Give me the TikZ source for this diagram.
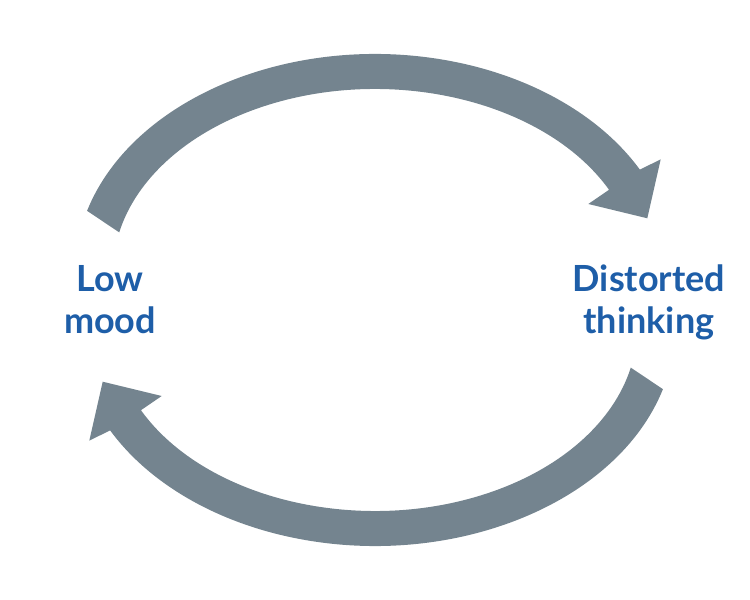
\documentclass[tikz,border=0pt]{standalone}
\usepackage{fontspec}
\setmainfont{Lato}
\usetikzlibrary{calc}
\definecolor{arrowgray}{RGB}{116,132,143}
\definecolor{labelblue}{RGB}{30,94,168}
\begin{document}
\begin{tikzpicture}[x=1pt,y=1pt,
  cyclearrow/.style={fill=arrowgray,draw=none},
  cyclelabel/.style={text=labelblue,font=\bfseries\fontsize{36}{41.6}\selectfont,align=center,inner sep=0pt,anchor=base}]
\path[use as bounding box] (0,0) rectangle (750,600);
\coordinate (c1) at (375,328);
\coordinate (c2) at (375,272);
% top arrow (to the right)
\coordinate (h1a) at (660.7,440.7);
\coordinate (h1t) at (647.3,381.7);
\coordinate (h1b) at (588.3,396);
\fill[cyclearrow] ($(c1)+(163.7:300pt and 218pt)$)
  arc[start angle=163.7,end angle=28,x radius=300pt,y radius=218pt]
  -- (h1a) -- (h1t) -- (h1b)
  -- ($(c1)+(26.7:262pt and 183pt)$)
  arc[start angle=26.7,end angle=167.5,x radius=262pt,y radius=183pt]
  -- cycle;
% bottom arrow (to the left)
\coordinate (h2a) at (89.3,159.3);
\coordinate (h2t) at (102.7,218.3);
\coordinate (h2b) at (161.7,204);
\fill[cyclearrow] ($(c2)+(343.7:300pt and 218pt)$)
  arc[start angle=343.7,end angle=208,x radius=300pt,y radius=218pt]
  -- (h2a) -- (h2t) -- (h2b)
  -- ($(c2)+(206.7:262pt and 183pt)$)
  arc[start angle=206.7,end angle=347.5,x radius=262pt,y radius=183pt]
  -- cycle;
\node[cyclelabel] (low) at (110,266.7) {Low\\mood};
\node[cyclelabel] (distorted) at (649,266.7) {Distorted\\thinking};
\end{tikzpicture}
\end{document}
